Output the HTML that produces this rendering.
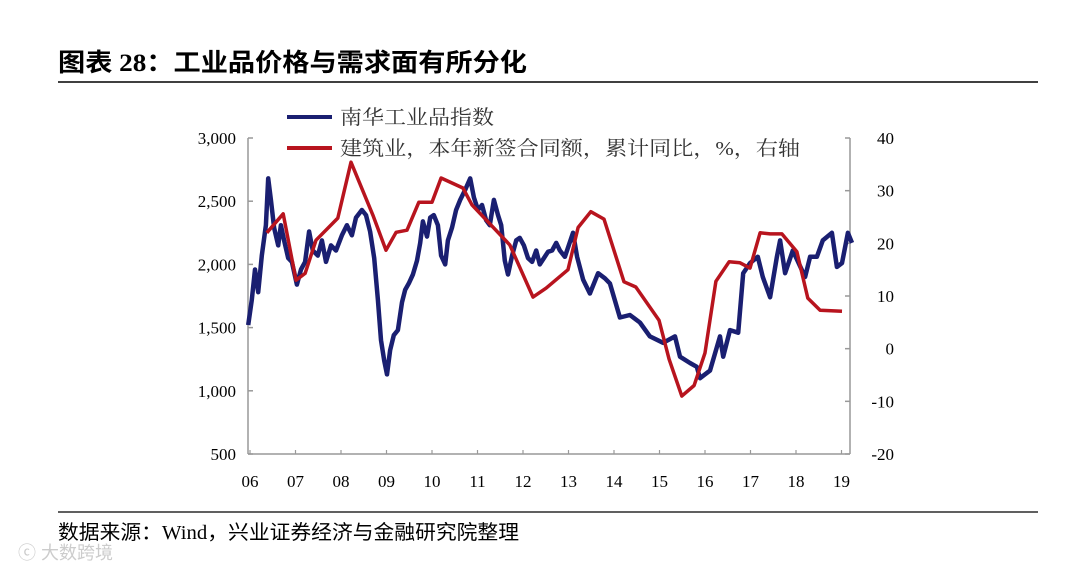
<!DOCTYPE html>
<html><head><meta charset="utf-8"><style>
body{margin:0;background:#fff;width:1080px;height:571px;overflow:hidden;font-family:"Liberation Serif","Noto Serif CJK SC",serif;}
</style></head><body>
<svg width="1080" height="571" viewBox="0 0 1080 571">
<text x="58" y="71" font-size="25" font-weight="bold" fill="#000" textLength="469" lengthAdjust="spacingAndGlyphs" font-family="Liberation Serif, Noto Sans CJK SC, sans-serif">图表 28：工业品价格与需求面有所分化</text>
<line x1="58" y1="82" x2="1038" y2="82" stroke="#000" stroke-width="1.5"/>
<line x1="58" y1="512" x2="1038" y2="512" stroke="#000" stroke-width="1.2"/>
<text x="58" y="539" font-size="20" fill="#000" textLength="461" lengthAdjust="spacingAndGlyphs" font-family="Liberation Serif, Noto Sans CJK SC, sans-serif">数据来源：Wind，兴业证券经济与金融研究院整理</text>
<text x="18" y="559" font-size="18" fill="#ccc" font-family="Liberation Sans, Noto Sans CJK SC, sans-serif">ⓒ 大数跨境</text>
<g id="axes"></g>
<g id="series"></g>
<g>
<line x1="287" y1="117" x2="332" y2="117" stroke="#1a1f71" stroke-width="4"/>
<text x="340" y="124" font-size="20" fill="#333" textLength="154" lengthAdjust="spacingAndGlyphs">南华工业品指数</text>
<line x1="287" y1="148" x2="332" y2="148" stroke="#b8141e" stroke-width="4"/>
<text x="340" y="155" font-size="20" fill="#333" textLength="460" lengthAdjust="spacingAndGlyphs">建筑业，本年新签合同额，累计同比，%，右轴</text>
</g>
</svg>
<script>
const xLabels=["06","07","08","09","10","11","12","13","14","15","16","17","18","19"];
const leftTicks=[500,1000,1500,2000,2500,3000];
const rightTicks=[-20,-10,0,10,20,30,40];
const blueYears=[5.96,6.04,6.11,6.18,6.26,6.35,6.40,6.46,6.53,6.62,6.68,6.75,6.84,6.92,7.03,7.12,7.21,7.30,7.38,7.49,7.58,7.67,7.78,7.89,8.02,8.13,8.24,8.33,8.46,8.55,8.64,8.73,8.81,8.88,8.95,9.01,9.08,9.16,9.25,9.34,9.41,9.49,9.58,9.67,9.74,9.80,9.89,9.96,10.04,10.13,10.20,10.29,10.35,10.44,10.53,10.62,10.73,10.84,10.92,11.01,11.10,11.19,11.27,11.36,11.45,11.52,11.60,11.67,11.76,11.85,11.93,12.02,12.11,12.20,12.29,12.37,12.46,12.55,12.64,12.73,12.81,12.92,13.10,13.19,13.32,13.47,13.65,13.80,13.91,14.13,14.35,14.57,14.79,15.08,15.34,15.45,15.67,15.82,15.89,16.11,16.33,16.40,16.55,16.73,16.84,16.99,17.16,17.27,17.43,17.58,17.65,17.76,17.93,18.20,18.31,18.46,18.59,18.79,18.90,19.01,19.14,19.23];
const blueValues=[1520,1720,1960,1780,2070,2310,2680,2510,2290,2150,2310,2190,2050,2020,1840,1960,2020,2260,2110,2070,2190,2020,2150,2110,2230,2310,2230,2370,2430,2390,2260,2050,1720,1400,1240,1130,1320,1440,1480,1700,1800,1850,1920,2030,2170,2340,2220,2370,2390,2310,2070,2000,2190,2290,2430,2510,2590,2680,2530,2430,2470,2350,2310,2510,2390,2310,2030,1920,2070,2190,2210,2150,2050,2020,2110,2000,2050,2100,2110,2170,2110,2060,2250,2060,1880,1770,1930,1890,1850,1580,1600,1540,1430,1380,1430,1270,1220,1190,1100,1160,1430,1270,1480,1460,1930,2010,2060,1900,1740,2060,2190,1930,2110,1900,2060,2060,2190,2250,1980,2010,2250,2170];
const redYears=[6.37,6.73,7.01,7.21,7.45,7.93,8.22,8.70,8.99,9.21,9.45,9.71,10.0,10.2,10.68,10.88,11.71,12.22,12.51,12.99,13.21,13.49,13.78,14.22,14.48,14.99,15.21,15.49,15.76,16.0,16.24,16.53,16.77,16.99,17.21,17.43,17.69,18.02,18.26,18.53,19.01];
const redValues=[22,25.6,13,14.3,20.6,24.8,35.4,25.4,18.7,22.1,22.5,27.8,27.8,32.4,30.5,27.3,19.7,9.8,11.5,15,23,26,24.6,12.7,11.7,5.4,-2,-9,-7,-0.8,12.8,16.5,16.3,15.3,22,21.8,21.8,18.4,9.6,7.3,7.1];

const NS="http://www.w3.org/2000/svg";
const X0=248,X1=850,Y0=138,Y1=454;
function xs(yr){return 250+(yr-6)*45.5;}
function yl(v){return Y1-(v-500)/2500*(Y1-Y0);}
function yr(v){return Y1-(v+20)/60*(Y1-Y0);}
function mk(tag,attrs,parent){const e=document.createElementNS(NS,tag);for(const k in attrs)e.setAttribute(k,attrs[k]);parent.appendChild(e);return e;}
const ax=document.getElementById('axes');
let e=mk('line',{x1:X0,y1:Y0,x2:X0,y2:Y1,stroke:'#999','stroke-width':1.5},ax);


e=mk('line',{x1:X1,y1:Y0,x2:X1,y2:Y1,stroke:'#999','stroke-width':1.5},ax);


e=mk('line',{x1:X0,y1:Y1,x2:X1,y2:Y1,stroke:'#999','stroke-width':1.5},ax);


leftTicks.forEach(v=>{const y=yl(v);
 mk('line',{x1:X0,y1:y,x2:X0+5,y2:y,stroke:'#999','stroke-width':1.5},ax);
 const t=mk('text',{x:236,y:y+6,'font-size':17,'text-anchor':'end',fill:'#000'},ax);t.textContent=v.toLocaleString('en-US');
 
 });
rightTicks.forEach(v=>{const y=yr(v);
 mk('line',{x1:X1-5,y1:y,x2:X1,y2:y,stroke:'#999','stroke-width':1.5},ax);
 const t=mk('text',{x:894,y:y+6,'font-size':17,'text-anchor':'end',fill:'#000'},ax);t.textContent=v;
 
 });
xLabels.forEach((l,i)=>{const x=xs(6+i);
 mk('line',{x1:x,y1:Y1,x2:x,y2:Y1-4,stroke:'#999','stroke-width':1.2},ax);
 const t=mk('text',{x:x,y:487,'font-size':17,'text-anchor':'middle',fill:'#000'},ax);t.textContent=l;
 
 });
const sg=document.getElementById('series');
let d=blueYears.map((y,i)=>(i?'L':'M')+xs(y).toFixed(1)+','+yl(blueValues[i]).toFixed(1)).join('');
e=mk('path',{d:d,fill:'none',stroke:'#1a1f71','stroke-width':4.5,'stroke-linejoin':'round'},sg);


d=redYears.map((y,i)=>(i?'L':'M')+xs(y).toFixed(1)+','+yr(redValues[i]).toFixed(1)).join('');
e=mk('path',{d:d,fill:'none',stroke:'#b8141e','stroke-width':3.5,'stroke-linejoin':'round'},sg);


</script>
</body></html>
